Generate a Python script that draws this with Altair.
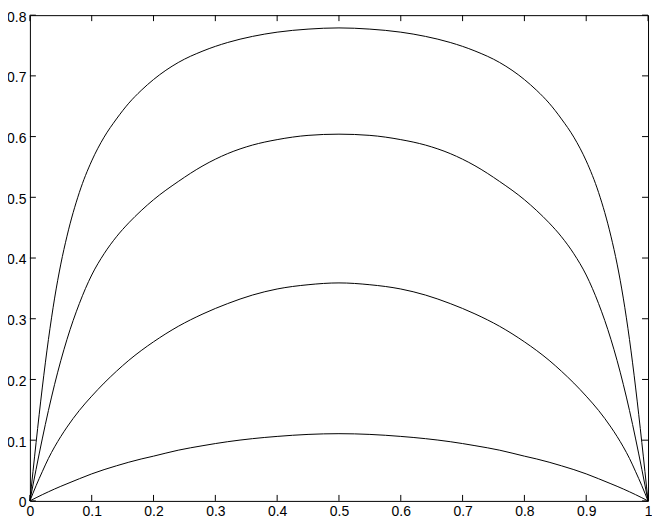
import altair as alt
import pandas as pd

x_vals = [0, 0.01, 0.02, 0.03, 0.04, 0.05, 0.06, 0.08, 0.1, 0.12, 0.14, 0.16, 0.18, 0.2,
          0.24, 0.28, 0.32, 0.36, 0.4, 0.45, 0.5, 0.55, 0.6, 0.64, 0.68, 0.72, 0.76, 0.8,
          0.82, 0.84, 0.86, 0.88, 0.9, 0.92, 0.94, 0.95, 0.96, 0.97, 0.98, 0.99, 1.0]

curve_a = [0, 0.096, 0.186, 0.266, 0.334, 0.39, 0.436, 0.508, 0.56, 0.599, 0.629, 0.655, 0.676, 0.694,
           0.722, 0.741, 0.755, 0.765, 0.772, 0.777, 0.779, 0.777, 0.772, 0.765, 0.755, 0.741, 0.722, 0.694,
           0.676, 0.655, 0.629, 0.599, 0.56, 0.508, 0.436, 0.39, 0.334, 0.266, 0.186, 0.096, 0]

curve_b = [0, 0.052, 0.102, 0.149, 0.192, 0.231, 0.266, 0.325, 0.372, 0.407, 0.435, 0.458, 0.478, 0.496,
           0.526, 0.552, 0.572, 0.586, 0.595, 0.602, 0.604, 0.602, 0.595, 0.586, 0.572, 0.552, 0.526, 0.496,
           0.478, 0.458, 0.435, 0.407, 0.372, 0.325, 0.266, 0.231, 0.192, 0.149, 0.102, 0.052, 0]

curve_c = [0, 0.025, 0.048, 0.07, 0.089, 0.106, 0.1215, 0.149, 0.1725, 0.194, 0.2135, 0.2315, 0.2475, 0.262,
           0.2875, 0.308, 0.325, 0.339, 0.349, 0.356, 0.359, 0.356, 0.349, 0.339, 0.325, 0.308, 0.2875, 0.262,
           0.2475, 0.2315, 0.2135, 0.194, 0.1725, 0.149, 0.1215, 0.106, 0.089, 0.07, 0.048, 0.025, 0]

curve_d = [0, 0.0052, 0.0102, 0.015, 0.0196, 0.024, 0.0282, 0.0365, 0.0445, 0.0515, 0.0578, 0.0637, 0.069, 0.0737,
           0.0835, 0.091, 0.0975, 0.1025, 0.1062, 0.1095, 0.1107, 0.1095, 0.1062, 0.1025, 0.0975, 0.091, 0.0835, 0.0737,
           0.069, 0.0637, 0.0578, 0.0515, 0.0445, 0.0365, 0.0282, 0.024, 0.0196, 0.015, 0.0102, 0.0052, 0]

x_ticks = [0, 0.1, 0.2, 0.3, 0.4, 0.5, 0.6, 0.7, 0.8, 0.9, 1.0]
y_ticks = [0, 0.1, 0.2, 0.3, 0.4, 0.5, 0.6, 0.7, 0.8]

W, H = 621, 488
TL = 6

rows = []
for name, ys in [("a", curve_a), ("b", curve_b), ("c", curve_c), ("d", curve_d)]:
    for xv, yv in zip(x_vals, ys):
        rows.append({"series": name, "x": xv, "y": yv})
df = pd.DataFrame(rows)

xscale = alt.Scale(domain=[0, 1], nice=False, zero=False)
yscale = alt.Scale(domain=[0, 0.8], nice=False, zero=False)

font = "Liberation Sans"

lines = alt.Chart(df).mark_line(color="black", strokeWidth=1, interpolate="monotone").encode(
    x=alt.X("x:Q", scale=xscale,
            axis=alt.Axis(values=x_ticks, format="~g", title=None, ticks=False, domain=False,
                          grid=False, labelFont=font, labelFontSize=14, labelColor="black",
                          labelPadding=4, labelFlush=False)),
    y=alt.Y("y:Q", scale=yscale,
            axis=alt.Axis(values=y_ticks, format="~g", title=None, ticks=False, domain=False,
                          grid=False, labelFont=font, labelFontSize=14, labelColor="black",
                          labelPadding=4, labelFlush=False, labelOffset=2)),
    detail="series:N",
)

xt = pd.DataFrame({"x": x_ticks})
yt = pd.DataFrame({"y": y_ticks})

bottom_ticks = alt.Chart(xt).mark_rule(color="black", strokeWidth=1).encode(
    x=alt.X("x:Q", scale=xscale), y=alt.value(H), y2=alt.value(H - TL))
top_ticks = alt.Chart(xt).mark_rule(color="black", strokeWidth=1).encode(
    x=alt.X("x:Q", scale=xscale), y=alt.value(0), y2=alt.value(TL))
left_ticks = alt.Chart(yt).mark_rule(color="black", strokeWidth=1).encode(
    y=alt.Y("y:Q", scale=yscale), x=alt.value(0), x2=alt.value(TL))
right_ticks = alt.Chart(yt).mark_rule(color="black", strokeWidth=1).encode(
    y=alt.Y("y:Q", scale=yscale), x=alt.value(W), x2=alt.value(W - TL))

chart = alt.layer(lines, bottom_ticks, top_ticks, left_ticks, right_ticks).properties(
    width=W, height=H,
    autosize=alt.AutoSizeParams(type="none"),
    padding={"left": 22, "top": 6, "right": 4, "bottom": 17},
    background="white",
).configure_view(stroke="black", strokeWidth=1)

chart.save("out.html", embed_options={"renderer": "svg", "actions": False})
